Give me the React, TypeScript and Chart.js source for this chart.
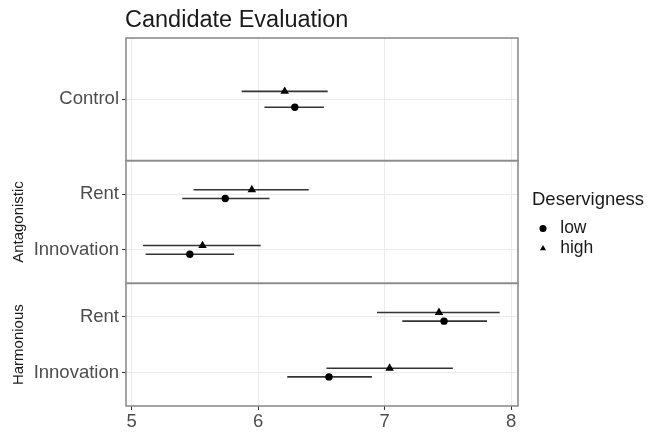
import React, { useEffect, useRef } from 'react';
import { Chart, registerables } from 'chart.js';

Chart.register(...registerables);

const TITLE = 'Candidate Evaluation';
const LEGEND_TITLE = 'Deservigness';
const GROUPS = ['low', 'high'];
const GROUP_STYLES = ['circle', 'triangle'];
const PANELS = ['Control', 'Antagonistic', 'Harmonious'];
const STRIP_LABELS = ['', 'Antagonistic', 'Harmonious'];
// rows listed top to bottom
const ROW_LABELS = ['Control', 'Rent', 'Innovation', 'Rent', 'Innovation'];
const ROW_PANEL = [0, 1, 1, 2, 2];
const LOW_MEAN = [6.29, 5.74, 5.46, 7.47, 6.56];
const LOW_LOWER = [6.05, 5.4, 5.11, 7.14, 6.23];
const LOW_UPPER = [6.52, 6.09, 5.81, 7.81, 6.9];
const HIGH_MEAN = [6.21, 5.95, 5.56, 7.43, 7.04];
const HIGH_LOWER = [5.87, 5.49, 5.09, 6.94, 6.54];
const HIGH_UPPER = [6.55, 6.4, 6.02, 7.91, 7.54];
const X_TICKS = [5, 6, 7, 8];
const X_MIN = 4.955;
const X_MAX = 8.055;
const DODGE = 0.078;
const LEGEND_BOX_WIDTH = 131;

const FONT = '"Liberation Sans", Arial, Helvetica, sans-serif';

function panelRows(p: number): number[] {
  const out: number[] = [];
  ROW_PANEL.forEach((pp, i) => {
    if (pp === p) out.push(i);
  });
  return out;
}

const errorBarPlugin = {
  id: 'errorBars',
  beforeDatasetsDraw(chart: any) {
    const ctx = chart.ctx;
    const xs = chart.scales.x;
    ctx.save();
    ctx.strokeStyle = '#333333';
    ctx.lineWidth = 1.6;
    chart.data.datasets.forEach((ds: any) => {
      const ys = chart.scales[ds.yAxisID];
      ds.data.forEach((d: any) => {
        const y = ys.getPixelForValue(d.y);
        ctx.beginPath();
        ctx.moveTo(xs.getPixelForValue(d.lo), y);
        ctx.lineTo(xs.getPixelForValue(d.hi), y);
        ctx.stroke();
      });
    });
    ctx.restore();
  },
};

const panelBorderPlugin = {
  id: 'panelBorders',
  afterDatasetsDraw(chart: any) {
    const ctx = chart.ctx;
    const area = chart.chartArea;
    ctx.save();
    ctx.strokeStyle = '#8c8c8c';
    ctx.lineWidth = 1.6;
    PANELS.forEach((_, p) => {
      const s = chart.scales['y' + p];
      ctx.strokeRect(area.left, s.top, area.right - area.left, s.bottom - s.top);
    });
    ctx.restore();
  },
};

const titlePlugin = {
  id: 'plotTitle',
  afterDraw(chart: any) {
    const ctx = chart.ctx;
    ctx.save();
    ctx.fillStyle = '#1a1a1a';
    ctx.font = '23.5px ' + FONT;
    ctx.textAlign = 'left';
    ctx.textBaseline = 'alphabetic';
    ctx.fillText(TITLE, chart.chartArea.left - 1, 27);
    ctx.restore();
  },
};

// make the legend box wide enough for its title
const legendWidthPlugin = {
  id: 'legendWidth',
  beforeLayout(chart: any) {
    const lg = chart.legend;
    if (lg && !lg.__wide) {
      const orig = lg.fit;
      lg.fit = function (this: any) {
        orig.call(this);
        this.width = LEGEND_BOX_WIDTH;
      };
      lg.__wide = true;
    }
  },
};

export default function App() {
  const ref = useRef<HTMLCanvasElement | null>(null);

  useEffect(() => {
    document.body.style.margin = '0';
    const canvas = ref.current;
    if (!canvas) return;
    Chart.defaults.font.family = FONT;

    const datasets: any[] = [];
    PANELS.forEach((_, p) => {
      const rows = panelRows(p);
      const n = rows.length;
      GROUPS.forEach((g, gi) => {
        const mean = gi === 0 ? LOW_MEAN : HIGH_MEAN;
        const lower = gi === 0 ? LOW_LOWER : HIGH_LOWER;
        const upper = gi === 0 ? LOW_UPPER : HIGH_UPPER;
        datasets.push({
          type: 'scatter',
          label: g,
          yAxisID: 'y' + p,
          data: rows.map((r, k) => ({
            x: mean[r],
            y: n - k + (gi === 0 ? -DODGE : DODGE),
            lo: lower[r],
            hi: upper[r],
          })),
          pointStyle: GROUP_STYLES[gi],
          pointRadius: gi === 0 ? 3.7 : 4.9,
          backgroundColor: '#000000',
          borderColor: '#000000',
          borderWidth: 0,
          showLine: false,
        });
      });
    });

    const scales: any = {
      x: {
        type: 'linear',
        position: 'bottom',
        min: X_MIN,
        max: X_MAX,
        afterBuildTicks: (s: any) => {
          s.ticks = X_TICKS.map((v) => ({ value: v }));
        },
        afterFit: (s: any) => {
          s.height = 27;
        },
        ticks: {
          color: '#4d4d4d',
          font: { size: 18.5 },
          padding: 1,
          maxRotation: 0,
          autoSkip: false,
          callback: (v: any) => String(v),
        },
        grid: { color: '#ebebeb', lineWidth: 1, tickColor: '#333333', tickLength: 4 },
        border: { display: false },
      },
      yPad: {
        type: 'linear',
        position: 'right',
        display: true,
        ticks: { display: false },
        grid: { display: false, drawTicks: false },
        border: { display: false },
        afterFit: (s: any) => {
          s.width = 14;
        },
      },
    };

    PANELS.forEach((_, p) => {
      const rows = panelRows(p);
      const n = rows.length;
      const labels = rows.map((r) => ROW_LABELS[r]);
      scales['y' + p] = {
        type: 'linear',
        position: 'left',
        stack: 'facets',
        stackWeight: 1,
        weight: 3 - p,
        min: 0.4,
        max: n + 0.6,
        afterBuildTicks: (s: any) => {
          s.ticks = labels.map((_l, k) => ({ value: n - k }));
        },
        afterFit: (s: any) => {
          s.width = 126;
        },
        ticks: {
          color: '#4d4d4d',
          font: { size: 18.5 },
          padding: 3,
          autoSkip: false,
          callback: (v: any) => labels[n - Math.round(v)],
        },
        grid: { color: '#ebebeb', lineWidth: 1, tickColor: '#333333', tickLength: 4 },
        border: { display: false },
        title: {
          display: STRIP_LABELS[p] !== '',
          text: STRIP_LABELS[p],
          color: '#1a1a1a',
          font: { size: 15 },
          padding: { top: 10, bottom: 0 },
        },
      };
    });

    const chart = new Chart(canvas, {
      type: 'scatter',
      data: { datasets },
      options: {
        animation: false,
        responsive: false,
        events: [],
        layout: { padding: { top: 38, left: 0, right: 0, bottom: 0 } },
        scales,
        plugins: {
          title: { display: false },
          tooltip: { enabled: false },
          legend: {
            position: 'right',
            align: 'start',
            title: {
              display: true,
              text: LEGEND_TITLE,
              position: 'start',
              color: '#1a1a1a',
              font: { size: 18.5 },
              padding: { top: 153, bottom: 4 },
            },
            labels: {
              usePointStyle: true,
              boxWidth: 17,
              boxHeight: 5,
              padding: 2.5,
              color: '#1a1a1a',
              font: { size: 17.5 },
              filter: (item: any) => item.datasetIndex < 2,
            },
          },
        },
      } as any,
      plugins: [legendWidthPlugin, errorBarPlugin, panelBorderPlugin, titlePlugin],
    });

    return () => chart.destroy();
  }, []);

  return (
    <div style={{ width: 663, height: 433 }}>
      <canvas ref={ref} width={663} height={433} style={{ display: 'block' }} />
    </div>
  );
}
